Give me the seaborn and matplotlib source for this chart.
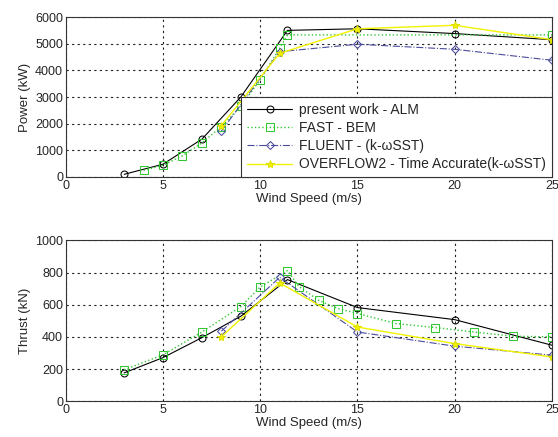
import matplotlib
matplotlib.use("Agg")
import matplotlib.pyplot as plt
import seaborn as sns
import pandas as pd

# ---- data ----
p_alm_x = [3, 5, 7, 9, 11.4, 15, 20, 25]
p_alm_y = [100, 480, 1420, 3000, 5500, 5560, 5380, 5150]
p_fast_x = [4, 5, 6, 7, 8, 9, 10, 11, 11.4, 25]
p_fast_y = [250, 440, 796, 1280, 1890, 2650, 3650, 4830, 5330, 5330]
p_flu_x = [8, 11, 15, 20, 25]
p_flu_y = [1720, 4700, 4980, 4790, 4380]
p_ovf_x = [8, 11, 15, 20, 25]
p_ovf_y = [1930, 4640, 5560, 5690, 5150]

t_alm_x = [3, 5, 7, 9, 11.4, 15, 20, 25]
t_alm_y = [176, 271, 395, 528, 756, 582, 507, 348]
t_fast_x = [3, 5, 7, 9, 10, 11.4, 12, 13, 14, 15, 17, 19, 21, 23, 25]
t_fast_y = [195, 288, 430, 588, 710, 812, 712, 627, 576, 545, 482, 458, 430, 404, 400]
t_flu_x = [8, 11, 15, 20, 25]
t_flu_y = [435, 770, 430, 342, 286]
t_ovf_x = [8, 11, 15, 20, 25]
t_ovf_y = [400, 735, 461, 358, 275]

labels = ["present work - ALM", "FAST - BEM", "FLUENT - (k-\u03c9SST)",
          "OVERFLOW2 - Time Accurate(k-\u03c9SST)"]
xticks = [0, 5, 10, 15, 20, 25]
p_yticks = [0, 1000, 2000, 3000, 4000, 5000, 6000]
t_yticks = [0, 200, 400, 600, 800, 1000]

sns.set_style("white")
plt.rcParams["font.family"] = ["Liberation Sans", "DejaVu Sans"]

fig = plt.figure(figsize=(5.58, 4.37), dpi=100)
ax1 = fig.add_axes([0.118, 0.595, 0.871, 0.366])
ax2 = fig.add_axes([0.118, 0.082, 0.871, 0.368])

styles = [
    dict(color="black", linestyle="-", marker="o", markerfacecolor="none",
         markeredgecolor="black", markersize=5, linewidth=0.8),
    dict(color="#33c633", linestyle=":", marker="s", markerfacecolor="none",
         markeredgecolor="#33c633", markersize=5.5, linewidth=1.0),
    dict(color="#4b4b9c", linestyle="-.", marker="D", markerfacecolor="none",
         markeredgecolor="#4b4b9c", markersize=4, linewidth=0.8),
    dict(color="#f2f200", linestyle="-", marker="*", markerfacecolor="#f2f200",
         markeredgecolor="#e0e000", markersize=6, linewidth=1.0),
]

def draw(ax, series, yticks, ylabel, legend):
    for (xs, ys), st, lab in zip(series, styles, labels):
        df = pd.DataFrame({"x": xs, "y": ys})
        sns.lineplot(data=df, x="x", y="y", ax=ax, sort=False,
                     label=lab if legend else None, **st)
    ax.set_xlim(0, 25)
    ax.set_ylim(yticks[0], yticks[-1])
    ax.set_xticks(xticks)
    ax.set_yticks(yticks)
    ax.set_xlabel("Wind Speed (m/s)", fontsize=9.5, labelpad=1)
    ax.set_ylabel(ylabel, fontsize=9.5, labelpad=3)
    ax.tick_params(labelsize=9, direction="in", length=3, pad=2)
    ax.grid(True, color="#222222", linestyle=(0, (2, 3)), linewidth=0.8)
    for s in ax.spines.values():
        s.set_color("#333333")
        s.set_linewidth(0.8)

draw(ax1, [(p_alm_x, p_alm_y), (p_fast_x, p_fast_y), (p_flu_x, p_flu_y), (p_ovf_x, p_ovf_y)],
     p_yticks, "Power (kW)", True)
draw(ax2, [(t_alm_x, t_alm_y), (t_fast_x, t_fast_y), (t_flu_x, t_flu_y), (t_ovf_x, t_ovf_y)],
     t_yticks, "Thrust (kN)", False)

leg = ax1.legend(loc="lower right", borderaxespad=0, fontsize=10, numpoints=1,
                 handlelength=3.3, handletextpad=0.5, labelspacing=0.3,
                 fancybox=False, framealpha=1, edgecolor="#333333",
                 borderpad=0.4)
leg.get_frame().set_linewidth(0.8)
if ax2.get_legend():
    ax2.get_legend().remove()

fig.savefig("out.png", dpi=100)
